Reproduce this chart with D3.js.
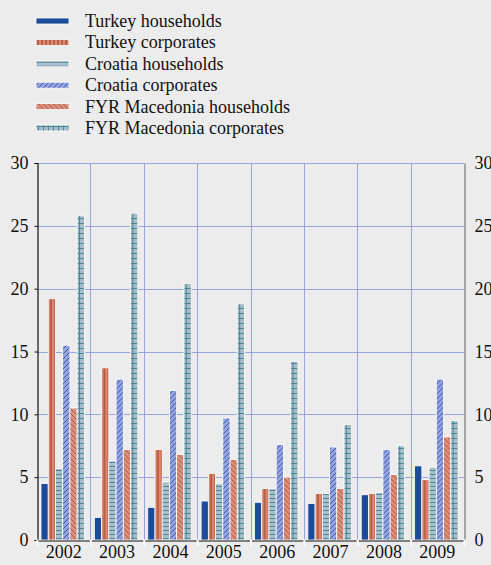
<!DOCTYPE html>
<html>
<head>
<meta charset="utf-8">
<script src="https://cdn.jsdelivr.net/npm/d3@7"></script>
<style>
  body { margin: 0; background: #ececec; }
  svg { display: block; }
  svg text { font-family: "Liberation Serif", "Times New Roman", serif; fill: #111; }
</style>
</head>
<body>
<svg width="491" height="565"></svg>
<script>
const years = ["2002", "2003", "2004", "2005", "2006", "2007", "2008", "2009"];
const seriesNames = [
  "Turkey households",
  "Turkey corporates",
  "Croatia households",
  "Croatia corporates",
  "FYR Macedonia households",
  "FYR Macedonia corporates"
];
const turkeyHouseholds   = [4.5, 1.8, 2.6, 3.1, 3.0, 2.9, 3.6, 5.9];
const turkeyCorporates   = [19.2, 13.7, 7.2, 5.3, 4.1, 3.7, 3.7, 4.8];
const croatiaHouseholds  = [5.7, 6.3, 4.6, 4.5, 4.1, 3.7, 3.8, 5.8];
const croatiaCorporates  = [15.5, 12.8, 11.9, 9.7, 7.6, 7.4, 7.2, 12.8];
const macedoniaHouseholds = [10.5, 7.2, 6.8, 6.4, 5.0, 4.1, 5.2, 8.2];
const macedoniaCorporates = [25.8, 26.0, 20.4, 18.8, 14.2, 9.2, 7.5, 9.5];
const yTicks = [0, 5, 10, 15, 20, 25, 30];

const allSeries = [turkeyHouseholds, turkeyCorporates, croatiaHouseholds,
  croatiaCorporates, macedoniaHouseholds, macedoniaCorporates];

const svg = d3.select("svg");
const defs = svg.append("defs");

// patterns for each series
function pattern(id, bg, draw, w, h) {
  const p = defs.append("pattern")
    .attr("id", id)
    .attr("patternUnits", "userSpaceOnUse")
    .attr("width", w).attr("height", h);
  p.append("rect").attr("width", w).attr("height", h).attr("fill", bg);
  draw(p);
}
pattern("p0", "#1a4c9a", () => {}, 4, 4);
pattern("p1", "#d98a72", p => {
  p.append("rect").attr("x", 1.5).attr("width", 1.2).attr("height", 4).attr("fill", "#a8402a");
}, 4, 4);
pattern("p2", "#a9bfca", p => {
  p.append("rect").attr("y", 2).attr("width", 4).attr("height", 1).attr("fill", "#4f8797");
}, 4, 4);
pattern("p3", "#96a5de", p => {
  p.append("path").attr("d", "M0,5 L5,0").attr("stroke", "#2c4aa8").attr("stroke-width", 0.9);
}, 5, 5);
pattern("p4", "#d9907c", p => {
  p.append("path").attr("d", "M0,0 L5,5").attr("stroke", "#a9503c").attr("stroke-width", 0.9);
}, 5, 5);
pattern("p5", "#a7bec8", p => {
  p.append("rect").attr("y", 3).attr("width", 5).attr("height", 1).attr("fill", "#4d8696");
  p.append("rect").attr("x", 2).attr("width", 1).attr("height", 5).attr("fill", "#4d8696");
}, 5, 5);

const plotLeft = 37, plotRight = 464, plotTop = 163, plotBottom = 540;

const x = d3.scaleBand().domain(years).range([plotLeft, plotRight]);
const xi = d3.scaleBand().domain(d3.range(seriesNames.length))
  .range([4, x.bandwidth() - 6]);
const y = d3.scaleLinear().domain([0, 30]).range([plotBottom, plotTop]);

// gridlines
const grid = svg.append("g").attr("stroke", "#98a6e0").attr("stroke-width", 1);
grid.selectAll(".hg").data(yTicks.filter(d => d > 0)).enter().append("line")
  .attr("x1", plotLeft).attr("x2", plotRight)
  .attr("y1", d => Math.round(y(d)) + 0.5).attr("y2", d => Math.round(y(d)) + 0.5);
grid.selectAll(".vg").data(years.slice(1)).enter().append("line")
  .attr("x1", d => Math.round(x(d)) + 0.5).attr("x2", d => Math.round(x(d)) + 0.5)
  .attr("y1", plotTop).attr("y2", plotBottom);

// bars
const groups = svg.append("g").selectAll("g").data(years).enter().append("g")
  .attr("transform", d => `translate(${x(d)},0)`);
groups.selectAll("rect")
  .data((yr, i) => allSeries.map((s, k) => ({ k, v: s[i] })))
  .enter().append("rect")
  .attr("x", d => xi(d.k))
  .attr("width", xi.bandwidth())
  .attr("y", d => y(d.v))
  .attr("height", d => y(0) - y(d.v))
  .attr("fill", d => `url(#p${d.k})`)
  .attr("stroke", "#fff")
  .attr("stroke-width", 0.8);

// left axis
const yAxisL = d3.axisLeft(y).tickValues(yTicks).tickSize(3).tickPadding(6);
const gl = svg.append("g").attr("transform", `translate(${plotLeft + 0.5},0)`).call(yAxisL);
gl.select(".domain").attr("stroke", "#111").attr("stroke-width", 1.2);
gl.selectAll(".tick line").attr("stroke", "#111");
gl.selectAll("text").attr("font-size", 18);

// right axis
const yAxisR = d3.axisRight(y).tickValues(yTicks).tickSize(0).tickPadding(10);
const gr = svg.append("g").attr("transform", `translate(${plotRight + 0.5},0)`).call(yAxisR);
gr.select(".domain").attr("stroke", "#777").attr("stroke-width", 1.2);
gr.selectAll("text").attr("font-size", 18);

// bottom axis
const xAxis = d3.axisBottom(x).tickSize(0).tickPadding(5);
const gb = svg.append("g").attr("transform", `translate(0,${plotBottom + 0.5})`).call(xAxis);
gb.select(".domain").attr("stroke", "#111").attr("stroke-width", 1.2);
gb.selectAll("text").attr("font-size", 18);
gb.selectAll(".sep").data(years.concat(["end"])).enter().append("line")
  .attr("x1", (d, i) => i < years.length ? x(d) + 0.5 : plotRight + 0.5)
  .attr("x2", (d, i) => i < years.length ? x(d) + 0.5 : plotRight + 0.5)
  .attr("y1", -1).attr("y2", 5)
  .attr("stroke", "#fff").attr("stroke-width", 2);

// legend
const legend = svg.append("g").attr("transform", "translate(36,21)");
const li = legend.selectAll("g").data(seriesNames).enter().append("g")
  .attr("transform", (d, i) => `translate(0,${i * 21.4})`);
li.append("rect")
  .attr("x", 0).attr("y", -3).attr("width", 33).attr("height", 6)
  .attr("fill", (d, i) => `url(#p${i})`)
  .attr("stroke", "#fff").attr("stroke-width", 0.8);
li.append("text")
  .attr("x", 49).attr("y", 0).attr("dy", "0.33em")
  .attr("font-size", 18)
  .text(d => d);
</script>
</body>
</html>
